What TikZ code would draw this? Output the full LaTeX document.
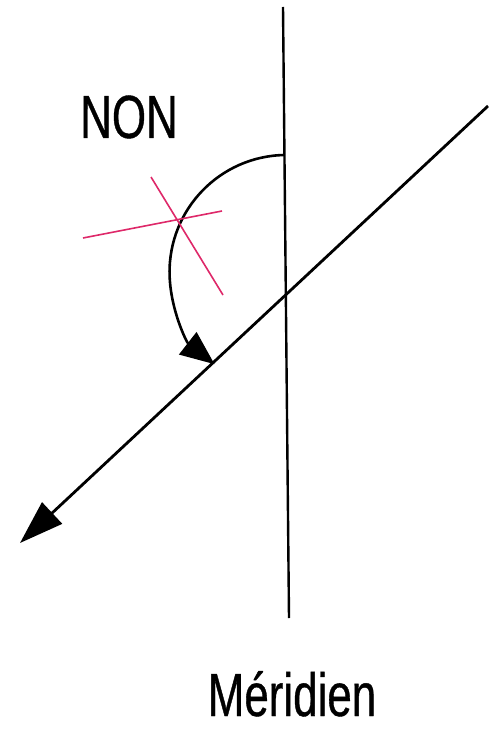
\documentclass[tikz,border=0pt]{standalone}
\usepackage{fontspec}
\setmainfont{Liberation Sans}
\newfontfamily\narrowfont[FakeStretch=0.72, FakeBold=0.6]{Liberation Sans}
\definecolor{crosspink}{RGB}{222,40,105}
\usetikzlibrary{arrows.meta}
\usetikzlibrary{positioning}
\tikzset{
big_label/.style={inner sep=0pt, anchor=base, text depth=0pt, font=\narrowfont\fontsize{61}{61}\selectfont},
meridian_line/.style={line width=2.4pt, color=black},
course_line/.style={line width=2.8pt, color=black, -{Triangle[length=44pt, width=29pt]}},
angle_arc/.style={line width=2.6pt, color=black, -{Triangle[length=34pt, width=28pt]}},
cross_line/.style={line width=1.6pt, color=crosspink}
}

\begin{document}
\begin{tikzpicture}[x=1pt, y=-1pt]
    \useasboundingbox (0,0) rectangle (488,730);
    \node[big_label] (non) at (129,138) {NON};
    \node[big_label] (meridien) at (292,716) {Méridien};

    \coordinate (mer_top) at (283,7);
    \coordinate (mer_bottom) at (289,618);
    \draw[meridian_line] (mer_top) -- (mer_bottom);

    \coordinate (course_start) at (488,106);
    \coordinate (course_end) at (20,543);
    \draw[course_line] (course_start) -- (course_end);

    % arc from the meridian down to the course line
    \coordinate (arc_start) at (284.5,155);
    \draw[angle_arc] (arc_start) arc[start angle=269, end angle=128, radius=117];

    \coordinate (c1_a) at (83,238);
    \coordinate (c1_b) at (222,211);
    \coordinate (c2_a) at (151,177);
    \coordinate (c2_b) at (223,295);
    \draw[cross_line] (c1_a) -- (c1_b);
    \draw[cross_line] (c2_a) -- (c2_b);
\end{tikzpicture}
\end{document}
